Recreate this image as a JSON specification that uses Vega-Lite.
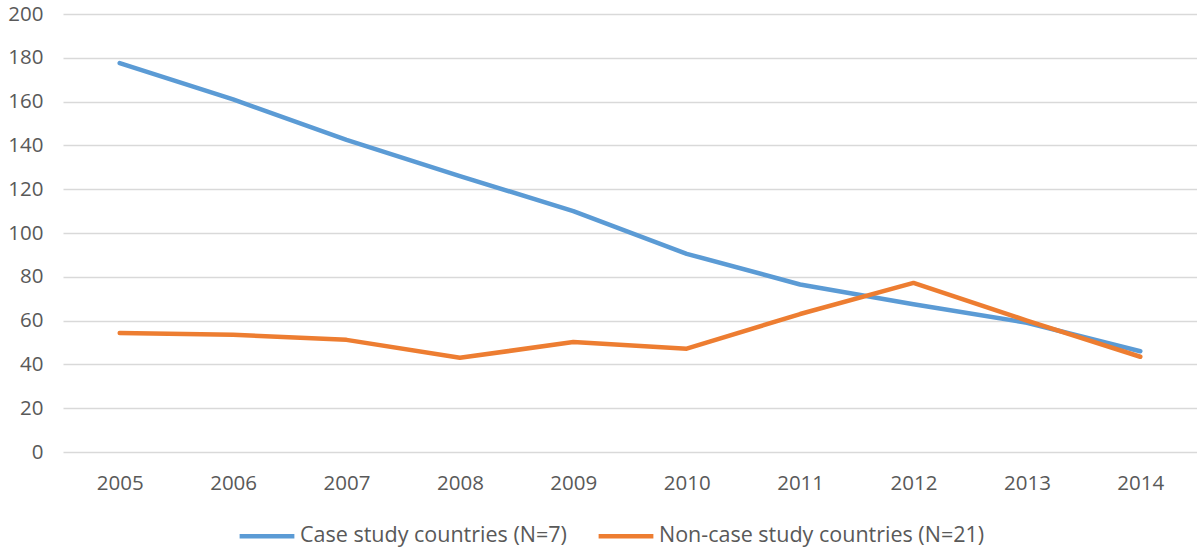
{
  "$schema": "https://vega.github.io/schema/vega-lite/v6.json",
  "width": 1134,
  "height": 438,
  "autosize": {"type": "none"},
  "padding": {"left": 63, "top": 14, "right": 0, "bottom": 98},
  "background": "white",
  "config": {
    "view": {"stroke": null},
    "font": "Open Sans",
    "axis": {"labelFont": "Open Sans", "labelFontSize": 20.5, "labelColor": "#595959"},
    "legend": {"labelFont": "Open Sans", "labelFontSize": 21.5, "labelColor": "#595959"}
  },
  "data": {
    "values": [
      {"year": "2005", "series": "Case study countries (N=7)", "value": 177.6},
      {"year": "2006", "series": "Case study countries (N=7)", "value": 161},
      {"year": "2007", "series": "Case study countries (N=7)", "value": 142.5},
      {"year": "2008", "series": "Case study countries (N=7)", "value": 126},
      {"year": "2009", "series": "Case study countries (N=7)", "value": 110},
      {"year": "2010", "series": "Case study countries (N=7)", "value": 90.5},
      {"year": "2011", "series": "Case study countries (N=7)", "value": 76.5},
      {"year": "2012", "series": "Case study countries (N=7)", "value": 67.5},
      {"year": "2013", "series": "Case study countries (N=7)", "value": 59},
      {"year": "2014", "series": "Case study countries (N=7)", "value": 46},
      {"year": "2005", "series": "Non-case study countries (N=21)", "value": 54.3},
      {"year": "2006", "series": "Non-case study countries (N=21)", "value": 53.5},
      {"year": "2007", "series": "Non-case study countries (N=21)", "value": 51.2},
      {"year": "2008", "series": "Non-case study countries (N=21)", "value": 43},
      {"year": "2009", "series": "Non-case study countries (N=21)", "value": 50.2},
      {"year": "2010", "series": "Non-case study countries (N=21)", "value": 47.2},
      {"year": "2011", "series": "Non-case study countries (N=21)", "value": 63},
      {"year": "2012", "series": "Non-case study countries (N=21)", "value": 77.2},
      {"year": "2013", "series": "Non-case study countries (N=21)", "value": 60},
      {"year": "2014", "series": "Non-case study countries (N=21)", "value": 43.5}
    ]
  },
  "mark": {"type": "line", "strokeWidth": 4.5, "strokeCap": "round", "strokeJoin": "round"},
  "encoding": {
    "x": {
      "field": "year", "type": "ordinal",
      "scale": {"type": "point", "padding": 0.5},
      "axis": {"title": null, "labelAngle": 0, "ticks": false, "domain": false, "grid": false, "labelPadding": 21}
    },
    "y": {
      "field": "value", "type": "quantitative",
      "scale": {"domain": [0, 200], "nice": false},
      "axis": {"title": null, "values": [0,20,40,60,80,100,120,140,160,180,200], "ticks": false, "domain": false, "gridColor": "#d9d9d9", "gridWidth": 1.3, "labelPadding": 20}
    },
    "color": {
      "field": "series", "type": "nominal",
      "scale": {"range": ["#5B9BD5", "#ED7D31"]},
      "legend": {"title": null, "orient": "none", "legendX": 174, "legendY": 492, "direction": "horizontal", "symbolType": "stroke", "symbolSize": 3000, "symbolStrokeWidth": 4.5, "columnPadding": 22, "labelOffset": 3, "labelLimit": 600}
    }
  }
}
